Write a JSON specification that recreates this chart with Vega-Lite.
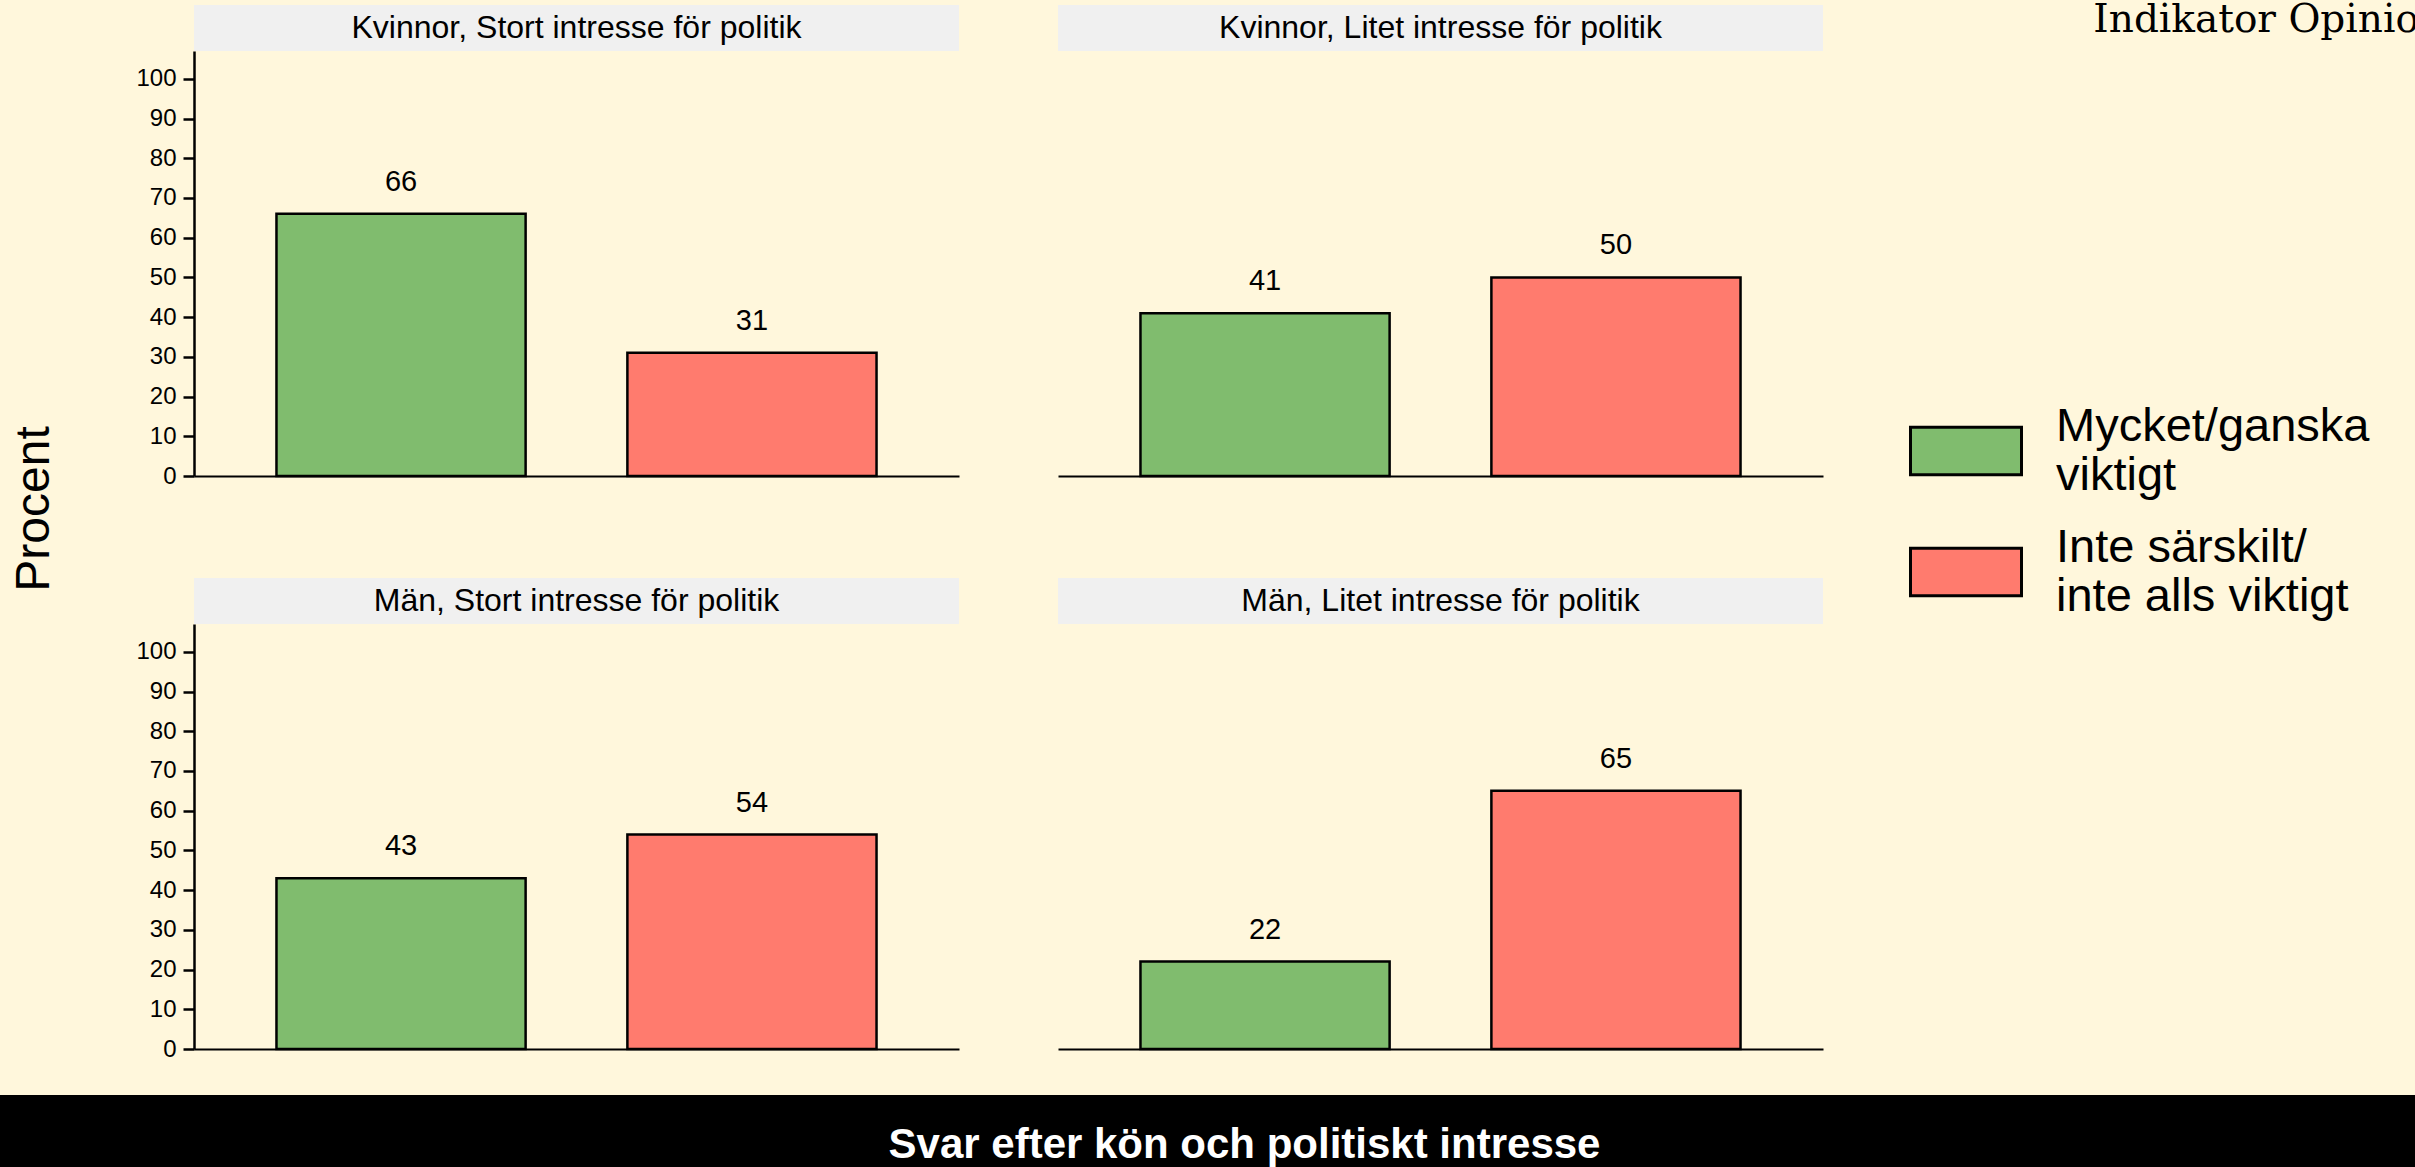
{
  "$schema": "https://vega.github.io/schema/vega-lite/v6.json",
  "background": "#FFF7DC",
  "padding": {"left": 0, "top": 0, "right": 0, "bottom": 0},
  "title": {"text": "Indikator Opinion", "anchor": "end", "frame": "bounds", "font": "DejaVu Serif", "fontSize": 39, "fontWeight": "normal", "color": "black", "offset": -34.5, "dx": 29},
  "datasets": {
    "bars": [
      {"panel": "Kvinnor, Stort intresse för politik", "svar": "Mycket/ganska viktigt", "procent": 66},
      {"panel": "Kvinnor, Stort intresse för politik", "svar": "Inte särskilt/inte alls viktigt", "procent": 31},
      {"panel": "Kvinnor, Litet intresse för politik", "svar": "Mycket/ganska viktigt", "procent": 41},
      {"panel": "Kvinnor, Litet intresse för politik", "svar": "Inte särskilt/inte alls viktigt", "procent": 50},
      {"panel": "Män, Stort intresse för politik", "svar": "Mycket/ganska viktigt", "procent": 43},
      {"panel": "Män, Stort intresse för politik", "svar": "Inte särskilt/inte alls viktigt", "procent": 54},
      {"panel": "Män, Litet intresse för politik", "svar": "Mycket/ganska viktigt", "procent": 22},
      {"panel": "Män, Litet intresse för politik", "svar": "Inte särskilt/inte alls viktigt", "procent": 65}
    ]
  },
  "vconcat": [
    {
      "hconcat": [
        {
          "data": {"values": [{"t": "Procent"}]},
          "width": 69, "height": 1008,
          "view": {"stroke": null},
          "mark": {"type": "text", "angle": 270, "fontSize": 48, "color": "black", "baseline": "middle", "align": "center"},
          "encoding": {"text": {"field": "t"}}
        },
        {
          "vconcat": [
            {
              "hconcat": [
                {
                  "vconcat": [
                    {"data": {"values": [{"label": "Kvinnor, Stort intresse för politik"}]}, "width": 765, "height": 46, "view": {"fill": "#F0F0F0", "stroke": null}, "mark": {"type": "text", "fontSize": 32, "color": "black", "baseline": "middle"}, "encoding": {"text": {"field": "label"}}},
                    {"data": {"name": "bars"}, "transform": [{"filter": "datum.panel == 'Kvinnor, Stort intresse för politik'"}], "width": 765, "height": 425,
                     "encoding": {
                       "x": {"field": "svar", "type": "nominal", "sort": ["Mycket/ganska viktigt", "Inte särskilt/inte alls viktigt"], "scale": {"paddingInner": 0.29, "paddingOuter": 0.235}, "axis": {"labels": false, "ticks": false, "title": null, "domainWidth": 2}},
                       "y": {"field": "procent", "type": "quantitative", "scale": {"domain": [0, 107], "nice": false}, "axis": {"values": [0,10,20,30,40,50,60,70,80,90,100], "title": null}}
                     },
                     "layer": [
                       {"mark": {"type": "bar", "stroke": "black", "strokeWidth": 2.5}, "encoding": {"color": {"field": "svar", "type": "nominal", "scale": {"domain": ["Mycket/ganska viktigt", "Inte särskilt/inte alls viktigt"], "range": ["#80BC6E", "#FF7B6E"]}, "legend": {"labelExpr": "datum.label == 'Mycket/ganska viktigt' ? ['Mycket/ganska', 'viktigt'] : ['Inte särskilt/', 'inte alls viktigt']"}}}},
                       {"mark": {"type": "text", "baseline": "alphabetic", "dy": -23, "fontSize": 29, "color": "black"}, "encoding": {"text": {"field": "procent"}}}
                     ]}
                  ],
                  "spacing": 0
                },
                {
                  "vconcat": [
                    {"data": {"values": [{"label": "Kvinnor, Litet intresse för politik"}]}, "width": 765, "height": 46, "view": {"fill": "#F0F0F0", "stroke": null}, "mark": {"type": "text", "fontSize": 32, "color": "black", "baseline": "middle"}, "encoding": {"text": {"field": "label"}}},
                    {"data": {"name": "bars"}, "transform": [{"filter": "datum.panel == 'Kvinnor, Litet intresse för politik'"}], "width": 765, "height": 425,
                     "encoding": {
                       "x": {"field": "svar", "type": "nominal", "sort": ["Mycket/ganska viktigt", "Inte särskilt/inte alls viktigt"], "scale": {"paddingInner": 0.29, "paddingOuter": 0.235}, "axis": {"labels": false, "ticks": false, "title": null, "domainWidth": 2}},
                       "y": {"field": "procent", "type": "quantitative", "scale": {"domain": [0, 107], "nice": false}, "axis": null}
                     },
                     "layer": [
                       {"mark": {"type": "bar", "stroke": "black", "strokeWidth": 2.5}, "encoding": {"color": {"field": "svar", "type": "nominal", "scale": {"domain": ["Mycket/ganska viktigt", "Inte särskilt/inte alls viktigt"], "range": ["#80BC6E", "#FF7B6E"]}, "legend": {"labelExpr": "datum.label == 'Mycket/ganska viktigt' ? ['Mycket/ganska', 'viktigt'] : ['Inte särskilt/', 'inte alls viktigt']"}}}},
                       {"mark": {"type": "text", "baseline": "alphabetic", "dy": -23, "fontSize": 29, "color": "black"}, "encoding": {"text": {"field": "procent"}}}
                     ]}
                  ],
                  "spacing": 0
                }
              ],
              "spacing": 99
            },
            {
              "hconcat": [
                {
                  "vconcat": [
                    {"data": {"values": [{"label": "Män, Stort intresse för politik"}]}, "width": 765, "height": 46, "view": {"fill": "#F0F0F0", "stroke": null}, "mark": {"type": "text", "fontSize": 32, "color": "black", "baseline": "middle"}, "encoding": {"text": {"field": "label"}}},
                    {"data": {"name": "bars"}, "transform": [{"filter": "datum.panel == 'Män, Stort intresse för politik'"}], "width": 765, "height": 425,
                     "encoding": {
                       "x": {"field": "svar", "type": "nominal", "sort": ["Mycket/ganska viktigt", "Inte särskilt/inte alls viktigt"], "scale": {"paddingInner": 0.29, "paddingOuter": 0.235}, "axis": {"labels": false, "ticks": false, "title": null, "domainWidth": 2}},
                       "y": {"field": "procent", "type": "quantitative", "scale": {"domain": [0, 107], "nice": false}, "axis": {"values": [0,10,20,30,40,50,60,70,80,90,100], "title": null}}
                     },
                     "layer": [
                       {"mark": {"type": "bar", "stroke": "black", "strokeWidth": 2.5}, "encoding": {"color": {"field": "svar", "type": "nominal", "scale": {"domain": ["Mycket/ganska viktigt", "Inte särskilt/inte alls viktigt"], "range": ["#80BC6E", "#FF7B6E"]}, "legend": {"labelExpr": "datum.label == 'Mycket/ganska viktigt' ? ['Mycket/ganska', 'viktigt'] : ['Inte särskilt/', 'inte alls viktigt']"}}}},
                       {"mark": {"type": "text", "baseline": "alphabetic", "dy": -23, "fontSize": 29, "color": "black"}, "encoding": {"text": {"field": "procent"}}}
                     ]}
                  ],
                  "spacing": 0
                },
                {
                  "vconcat": [
                    {"data": {"values": [{"label": "Män, Litet intresse för politik"}]}, "width": 765, "height": 46, "view": {"fill": "#F0F0F0", "stroke": null}, "mark": {"type": "text", "fontSize": 32, "color": "black", "baseline": "middle"}, "encoding": {"text": {"field": "label"}}},
                    {"data": {"name": "bars"}, "transform": [{"filter": "datum.panel == 'Män, Litet intresse för politik'"}], "width": 765, "height": 425,
                     "encoding": {
                       "x": {"field": "svar", "type": "nominal", "sort": ["Mycket/ganska viktigt", "Inte särskilt/inte alls viktigt"], "scale": {"paddingInner": 0.29, "paddingOuter": 0.235}, "axis": {"labels": false, "ticks": false, "title": null, "domainWidth": 2}},
                       "y": {"field": "procent", "type": "quantitative", "scale": {"domain": [0, 107], "nice": false}, "axis": null}
                     },
                     "layer": [
                       {"mark": {"type": "bar", "stroke": "black", "strokeWidth": 2.5}, "encoding": {"color": {"field": "svar", "type": "nominal", "scale": {"domain": ["Mycket/ganska viktigt", "Inte särskilt/inte alls viktigt"], "range": ["#80BC6E", "#FF7B6E"]}, "legend": {"labelExpr": "datum.label == 'Mycket/ganska viktigt' ? ['Mycket/ganska', 'viktigt'] : ['Inte särskilt/', 'inte alls viktigt']"}}}},
                       {"mark": {"type": "text", "baseline": "alphabetic", "dy": -23, "fontSize": 29, "color": "black"}, "encoding": {"text": {"field": "procent"}}}
                     ]}
                  ],
                  "spacing": 0
                }
              ],
              "spacing": 99
            }
          ],
          "spacing": 90
        }
      ],
      "spacing": 66
    },
    {
      "data": {"values": [{"t": "Svar efter kön och politiskt intresse"}]},
      "width": 2415, "height": 100,
      "view": {"fill": "black", "stroke": null},
      "mark": {"type": "text", "fontSize": 42, "fontWeight": "bold", "color": "white", "baseline": "middle", "dx": 37},
      "encoding": {"text": {"field": "t"}}
    }
  ],
  "spacing": 34,
  "resolve": {"scale": {"color": "shared"}},
  "config": {
    "font": "Liberation Sans",
    "view": {"stroke": null},
    "axis": {"grid": false, "domainColor": "black", "domainWidth": 2.5, "tickColor": "black", "tickWidth": 2.5, "tickSize": 11, "labelColor": "black", "labelFontSize": 24, "labelPadding": 7, "labelFont": "Liberation Sans"},
    "legend": {
      "orient": "none", "legendX": 1909, "legendY": 389, "title": null,
      "symbolType": "M-1,-0.43L1,-0.43L1,0.43L-1,0.43Z",
      "symbolSize": 12321,
      "symbolStrokeColor": "black", "symbolStrokeWidth": 3, "symbolOpacity": 1,
      "labelFontSize": 47, "labelFont": "Liberation Sans", "labelColor": "black", "labelOffset": 33, "labelLimit": 0,
      "labelBaseline": "bottom",
      "rowPadding": 16
    }
  }
}
